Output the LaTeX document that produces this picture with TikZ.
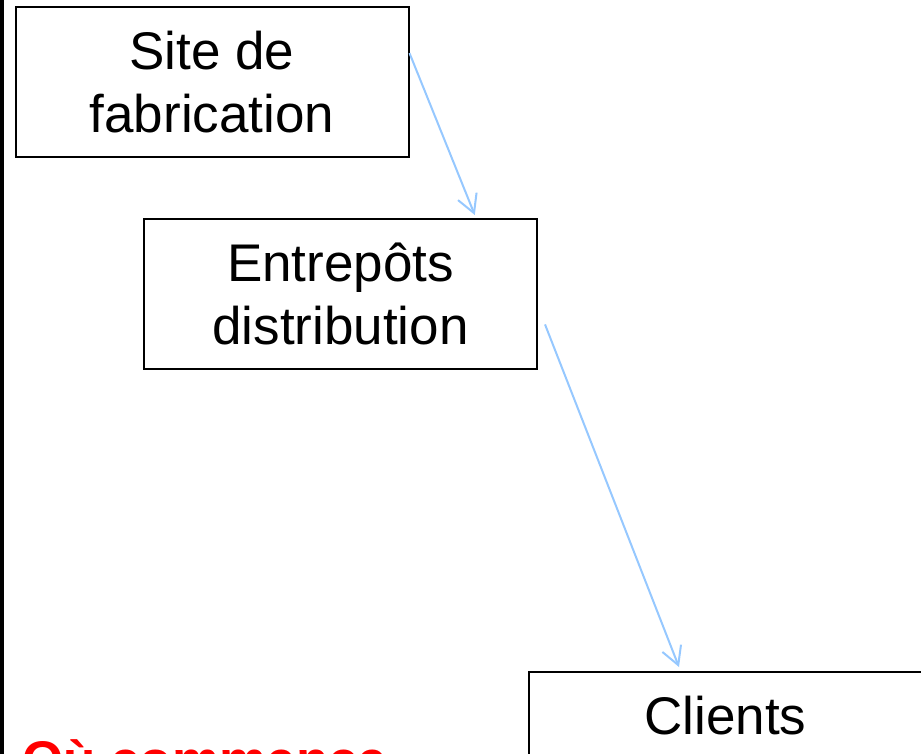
\documentclass[tikz,border=0pt]{standalone}
\usepackage{fontspec}
\setmainfont{Liberation Sans}
\usepackage{tikz}
\usetikzlibrary{calc, positioning, arrows.meta}
\definecolor{flowblue}{RGB}{150,200,255}
\tikzstyle{box}=[draw, line width=2pt, shape=rectangle, minimum width=393pt, minimum height=150pt, align=center, inner sep=0pt, font=\fontsize{53}{63}\selectfont]
\tikzstyle{flow}=[->, flowblue, line width=2pt]
\tikzset{>={Straight Barb[length=18pt, width=20pt]}}

\begin{document}
\begin{tikzpicture}[x=1pt, y=-1pt]
\useasboundingbox (0,0) rectangle (921,754);
\clip (0,0) rectangle (921,754);
% the left border
\fill[black] (0,0) rectangle (4,754);
% the three boxes
\node[box] (site) at (212,82) {Site de\\fabrication};
\node[box] (entrepot) at (340.5,294) {Entrepôts\\distribution};
\node[box, minimum height=88pt] (clients) at (725.5,716) {Clients};
% the question, cut by the bottom edge
\node[anchor=base west, text=red, inner sep=0pt, font=\fontsize{53}{63}\selectfont\bfseries] (question) at (22,778) {Où commence};
% the arrows
\draw[flow] ($(site.north east)!0.31!(site.south east)$) -- ($(entrepot.north west)!0.84!(entrepot.north east)+(0,-3)$);
\draw[flow] ($(entrepot.north east)!0.7!(entrepot.south east)+(7,0)$) -- ($(clients.north west)+(151,-4)$);
\end{tikzpicture}
\end{document}
